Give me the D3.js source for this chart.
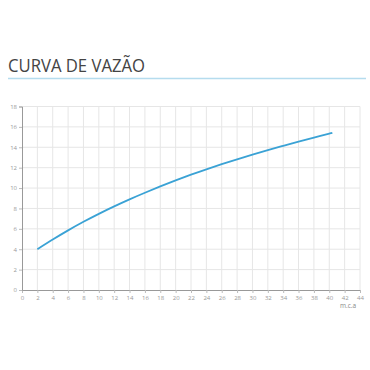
<!DOCTYPE html>
<html>
<head>
<meta charset="utf-8">
<script src="https://cdn.jsdelivr.net/npm/d3@7"></script>
<style>
body { margin:0; background:#fff; }
</style>
</head>
<body>
<div id="chart"></div>
<script>
var title = "CURVA DE VAZÃO";
var unitLabel = "m.c.a";
var xTicks = d3.range(0, 45, 2);
var yTicks = d3.range(0, 19, 2);
var pressure = [2, 4, 6, 8, 10, 12, 14, 16, 18, 20, 22, 24, 26, 28, 30, 32, 34, 36, 38, 40, 40.4];
var flow = [4.0, 4.95, 5.85, 6.69, 7.47, 8.2, 8.89, 9.54, 10.16, 10.75, 11.31, 11.84, 12.34, 12.82, 13.28, 13.72, 14.14, 14.55, 14.95, 15.34, 15.42];

var w = 370, h = 370;
var plotL = 22, plotR = 360, plotT = 106.5, plotB = 290;

var svg = d3.select("#chart").append("svg")
	.attr("width", w)
	.attr("height", h);

svg.append("text")
	.attr("x", 8)
	.attr("y", 72)
	.text(title)
	.attr("font-family", "'Open Sans', sans-serif")
	.attr("font-size", 19)
	.attr("textLength", 137)
	.attr("lengthAdjust", "spacingAndGlyphs")
	.attr("fill", "#444");

svg.append("line")
	.attr("x1", 8).attr("x2", 366)
	.attr("y1", 78.5).attr("y2", 78.5)
	.attr("stroke", "#b5dcee")
	.attr("stroke-width", 1.5);

var x = d3.scaleLinear().domain([0, 44]).range([plotL, plotR]);
var y = d3.scaleLinear().domain([0, 18]).range([plotB, plotT]);

// grid
svg.append("g").selectAll("line")
	.data(xTicks.slice(1))
	.enter().append("line")
	.attr("x1", function(d){ return x(d); })
	.attr("x2", function(d){ return x(d); })
	.attr("y1", y(0)).attr("y2", y(18))
	.attr("stroke", "#e6e6e6");

svg.append("g").selectAll("line")
	.data(yTicks.slice(1))
	.enter().append("line")
	.attr("x1", x(0)).attr("x2", x(44))
	.attr("y1", function(d){ return y(d); })
	.attr("y2", function(d){ return y(d); })
	.attr("stroke", "#e6e6e6");

// axes
var xAxis = d3.axisBottom(x).tickValues(xTicks).tickSize(3).tickPadding(3);
var yAxis = d3.axisLeft(y).tickValues(yTicks).tickSize(3).tickPadding(2);

var gx = svg.append("g")
	.attr("transform", "translate(0," + plotB + ")")
	.call(xAxis);
var gy = svg.append("g")
	.attr("transform", "translate(" + plotL + ",0)")
	.call(yAxis);

[gx, gy].forEach(function(g){
	g.select(".domain").attr("stroke", "#999");
	g.selectAll(".tick line").attr("stroke", "#bbb");
	g.selectAll("text")
		.attr("fill", "#999")
		.attr("font-size", 6)
		.attr("font-family", "'Open Sans', sans-serif");
});

svg.append("text")
	.attr("x", 348)
	.attr("y", 308)
	.attr("text-anchor", "middle")
	.text(unitLabel)
	.attr("font-family", "'Open Sans', sans-serif")
	.attr("font-size", 6.5)
	.attr("fill", "#888");

var line = d3.line()
	.x(function(d, i){ return x(pressure[i]); })
	.y(function(d){ return y(d); })
	.curve(d3.curveCatmullRom);

svg.append("path")
	.datum(flow)
	.attr("d", line)
	.attr("fill", "none")
	.attr("stroke", "#3aa2d5")
	.attr("stroke-width", 1.8);
</script>
</body>
</html>
